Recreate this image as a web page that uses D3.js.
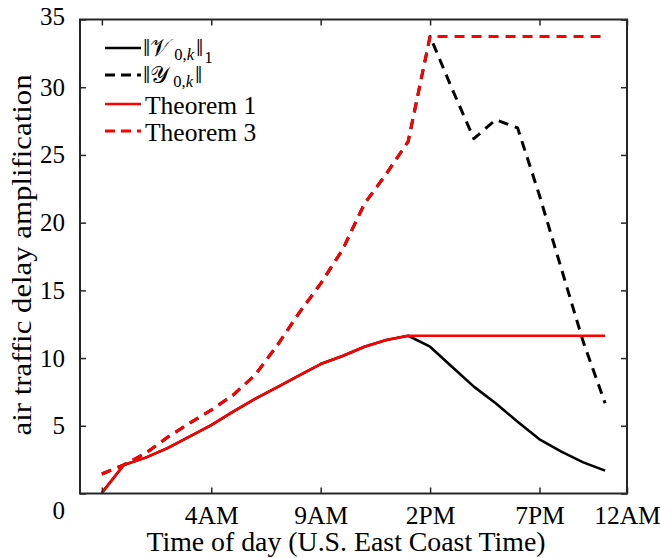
<!DOCTYPE html>
<html>
<head>
<meta charset="utf-8">
<script src="https://cdn.jsdelivr.net/npm/d3@7"></script>
<style>
  html, body { margin: 0; padding: 0; background: #fff; }
  svg text { font-family: "Liberation Serif", "Times New Roman", serif; fill: #000; }
</style>
</head>
<body>
<svg id="chart" width="660" height="558"></svg>
<script>
// ---- data ----
const hourIndex = [0,1,2,3,4,5,6,7,8,9,10,11,12,13,14,15,16,17,18,19,20,21,22,23];
const normV = [0.05, 2.1, 2.65, 3.35, 4.2, 5.05, 6.05, 6.98, 7.84, 8.7, 9.56, 10.15, 10.84, 11.33, 11.65, 10.84, 9.36, 7.89, 6.66, 5.3, 4.0, 3.09, 2.3, 1.69];
const normY = [1.44, 2.12, 2.97, 4.15, 5.18, 6.17, 7.27, 8.75, 10.9, 13.3, 15.5, 18.0, 21.4, 23.6, 26.0, 33.75, 29.9, 26.2, 27.6, 27.0, 22.0, 16.6, 11.2, 6.66];
const theorem1 = [0.05, 2.1, 2.65, 3.35, 4.2, 5.05, 6.05, 6.98, 7.84, 8.7, 9.56, 10.15, 10.84, 11.33, 11.65, 11.65, 11.65, 11.65, 11.65, 11.65, 11.65, 11.65, 11.65, 11.65];
const theorem3 = [1.44, 2.12, 2.97, 4.15, 5.18, 6.17, 7.27, 8.75, 10.9, 13.3, 15.5, 18.0, 21.4, 23.6, 26.0, 33.75, 33.75, 33.75, 33.75, 33.75, 33.75, 33.75, 33.75, 33.75];
const xTickValues = [0, 5, 10, 15, 20, 24];
const xTickLabels = ["", "4AM", "9AM", "2PM", "7PM", "12AM"];
const yTickValues = [0, 5, 10, 15, 20, 25, 30, 35];
const xDomain = [-1, 24];
const yDomain = [0, 35];

// ---- layout ----
const svg = d3.select("#chart");
const L = 80, R = 627, T = 19.5, B = 493.5;
const x = d3.scaleLinear().domain(xDomain).range([L, R]);
const y = d3.scaleLinear().domain(yDomain).range([B, T]);
const axisColor = "#262626";

// series
const lineGen = vals => d3.line().x((d, i) => x(hourIndex[i])).y(d => y(d))(vals);
const series = [
  { vals: normV, color: "#000", dash: null, w: 2.6 },
  { vals: normY, color: "#000", dash: "10,7", w: 3 },
  { vals: theorem1, color: "#ff0000", dash: null, w: 2.6 },
  { vals: theorem3, color: "#ff0000", dash: "10,7", w: 3 }
];
series.forEach(s => {
  svg.append("path").attr("d", lineGen(s.vals))
    .attr("fill", "none").attr("stroke", s.color).attr("stroke-width", s.w)
    .attr("stroke-dasharray", s.dash).attr("stroke-linejoin", "round");
});

// axes (box with inward ticks)
const tl = 6;
const gB = svg.append("g").attr("transform", `translate(0,${B})`)
  .call(d3.axisBottom(x).tickValues(xTickValues).tickSizeInner(-tl).tickSizeOuter(0)
    .tickPadding(12).tickFormat((d, i) => xTickLabels[i]));
const gT = svg.append("g").attr("transform", `translate(0,${T})`)
  .call(d3.axisTop(x).tickValues(xTickValues).tickSizeInner(-tl).tickSizeOuter(0).tickFormat(""));
const gL = svg.append("g").attr("transform", `translate(${L},0)`)
  .call(d3.axisLeft(y).tickValues(yTickValues).tickSizeInner(-tl).tickSizeOuter(0).tickPadding(15));
const gR = svg.append("g").attr("transform", `translate(${R},0)`)
  .call(d3.axisRight(y).tickValues(yTickValues).tickSizeInner(-tl).tickSizeOuter(0).tickFormat(""));
[gB, gT, gL, gR].forEach(g => {
  g.select(".domain").remove();
  g.selectAll(".tick line").attr("stroke", axisColor).attr("stroke-width", 1.5);
  g.selectAll("text").attr("font-family", "Liberation Serif").attr("fill", "#000");
});
gB.selectAll("text").attr("font-size", 25.5);
gL.selectAll("text").attr("font-size", 25);
// special offsets matching reference label placement
gL.selectAll(".tick text").attr("dy", d => d === 0 ? "1.0em" : (d === 35 ? "0.2em" : "0.32em"));

svg.append("rect").attr("x", L).attr("y", T).attr("width", R - L).attr("height", B - T)
  .attr("fill", "none").attr("stroke", axisColor).attr("stroke-width", 2);

// axis labels
svg.append("text").attr("transform", "translate(346,551) scale(1.05,1)").attr("text-anchor", "middle")
  .attr("font-size", 26.5).text("Time of day (U.S. East Coast Time)");
svg.append("text").attr("transform", "translate(31,255) rotate(-90) scale(1.12,1)").attr("text-anchor", "middle")
  .attr("font-size", 27.5).text("air traffic delay amplification");

// legend
const fs = 26;
const legY = [48, 75, 104, 131];
const lg = svg.append("g");
series.forEach((s, i) => {
  lg.append("line").attr("x1", 105).attr("x2", 141).attr("y1", legY[i]).attr("y2", legY[i])
    .attr("stroke", s.color).attr("stroke-width", s.w).attr("stroke-dasharray", s.dash ? "10,6" : null);
});
function normLabel(yy, letter, outerSub) {
  const t = lg.append("text").attr("x", 143).attr("y", yy + 8).attr("font-size", fs);
  t.append("tspan").text("\u2016");
  t.append("tspan").attr("font-family", "DejaVu Serif, Noto Sans, serif").attr("font-size", 24).text(letter);
  t.append("tspan").attr("font-size", 16.5).attr("dx", 4).attr("dy", 4).text("0,");
  t.append("tspan").attr("font-size", 16.5).attr("font-style", "italic").text("k");
  t.append("tspan").attr("dx", 2).attr("dy", -4).text("\u2016");
  if (outerSub) t.append("tspan").attr("font-size", 17).attr("dx", 1).attr("dy", 7).text(outerSub);
}
normLabel(legY[0], "\u{1D4B1}", "1");
normLabel(legY[1], "\u{1D4B4}", null);
lg.append("text").attr("x", 145).attr("y", legY[2] + 9.5).attr("font-size", 25.5).text("Theorem 1");
lg.append("text").attr("x", 145).attr("y", legY[3] + 9.5).attr("font-size", 25.5).text("Theorem 3");
</script>
</body>
</html>
